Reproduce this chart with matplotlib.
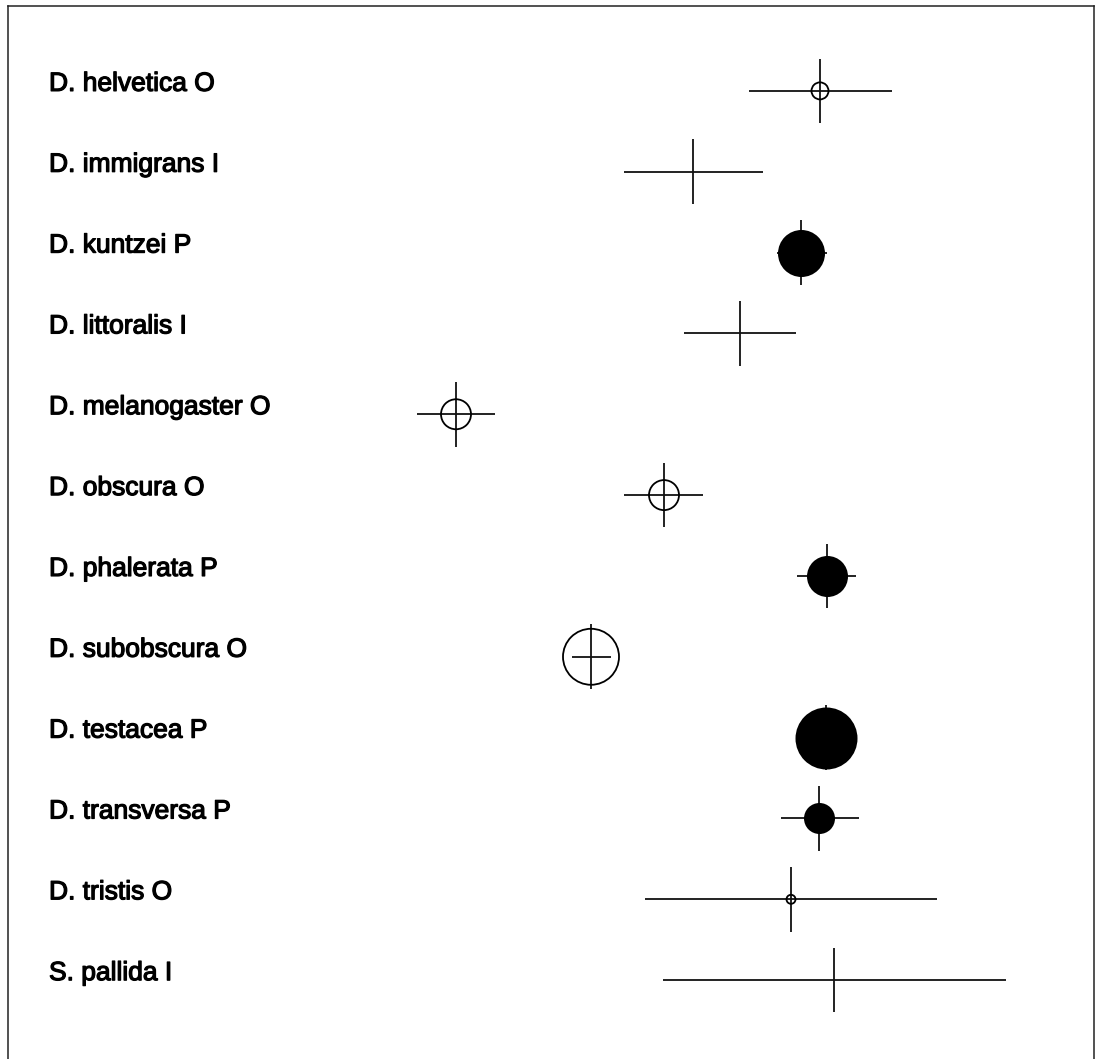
import matplotlib
matplotlib.use("Agg")
import matplotlib.pyplot as plt
import matplotlib.patheffects as pe
import numpy as np

# species, group letter (O = open circle, P = filled circle, I = no circle)
species = ["D. helvetica", "D. immigrans", "D. kuntzei", "D. littoralis",
           "D. melanogaster", "D. obscura", "D. phalerata", "D. subobscura",
           "D. testacea", "D. transversa", "D. tristis", "S. pallida"]
groups = ["O", "I", "P", "I", "O", "O", "P", "O", "P", "P", "O", "I"]

# position on the horizontal scale (centre, lower and upper end of the bar)
centre = [820, 693, 801, 740, 456, 664, 827, 591, 826, 819, 791, 834]
lower = [749, 624, 777, 684, 417, 624, 797, 572, 810, 781, 645, 663]
upper = [892, 763, 827, 796, 495, 703, 856, 611, 842, 859, 937, 1006]
# circle diameter (0 = none)
circle = [17, 0, 47, 0, 30, 30, 41, 56, 62, 31, 9, 0]

plt.rcParams['font.family'] = ['Liberation Sans', 'DejaVu Sans']

fig = plt.figure(figsize=(10.96, 10.59), dpi=100)
ax = fig.add_axes([7.5 / 1096, -2 / 1059, (1094 - 7.5) / 1096, 1055 / 1059])

rows = np.arange(len(species))
ax.set_xlim(7.5, 1094)
ax.set_ylim(12.0, -1.05)
ax.set_xticks([])
ax.set_yticks([])
for sp in ax.spines.values():
    sp.set_linewidth(1.1)
    sp.set_color('#222222')

lw = 1.3
ax.hlines(rows, lower, upper, color='#111111', lw=lw, zorder=2)
ax.vlines(centre, rows - 0.4, rows + 0.4, color='#111111', lw=lw, zorder=2)

for i in rows:
    if circle[i] == 0:
        continue
    s = (circle[i] * 0.72) ** 2
    if groups[i] == "P":
        ax.scatter(centre[i], i, s=s, color='black', lw=0, zorder=3)
    else:
        ax.scatter(centre[i], i, s=s, facecolor='none', edgecolor='black',
                   lw=lw, zorder=3)

for i in rows:
    ax.text(49, i, f"{species[i]} {groups[i]}", fontsize=19,
            va='baseline', ha='left', color='black',
            path_effects=[pe.withStroke(linewidth=0.9, foreground='black')])

fig.savefig("out.png", dpi=100)
